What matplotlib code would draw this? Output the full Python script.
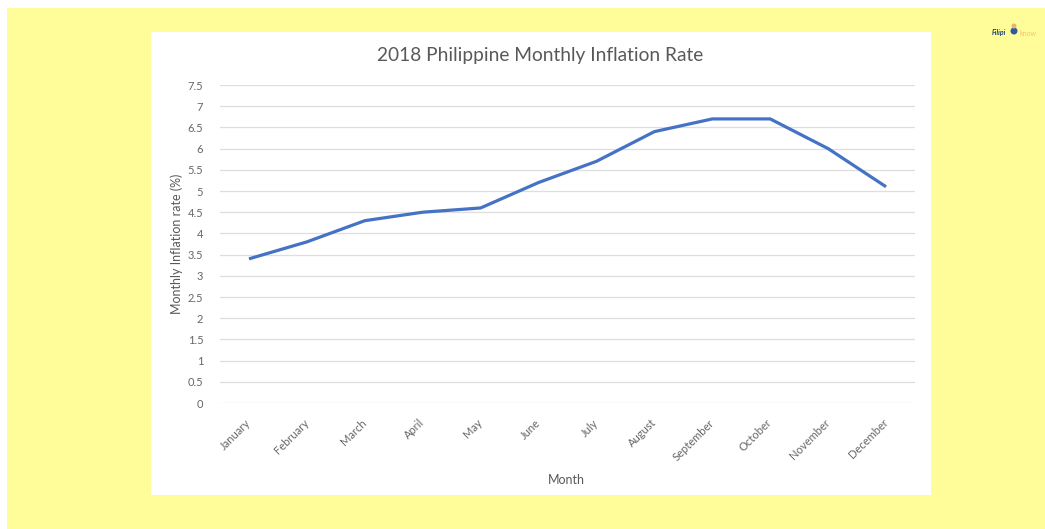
import matplotlib
matplotlib.use("Agg")
import matplotlib.pyplot as plt
from matplotlib.patches import Rectangle, Ellipse

months = ["January", "February", "March", "April", "May", "June", "July",
          "August", "September", "October", "November", "December"]
inflation = [3.4, 3.8, 4.3, 4.5, 4.6, 5.2, 5.7, 6.4, 6.7, 6.7, 6.0, 5.1]
yticks = [0, 0.5, 1, 1.5, 2, 2.5, 3, 3.5, 4, 4.5, 5, 5.5, 6, 6.5, 7, 7.5]
ytick_labels = ["0", "0.5", "1", "1.5", "2", "2.5", "3", "3.5", "4", "4.5",
                "5", "5.5", "6", "6.5", "7", "7.5"]

W, H = 1045, 529
DPI = 100
plt.rcParams["font.family"] = ["Lato", "DejaVu Sans"]

fig = plt.figure(figsize=(W / DPI, H / DPI), dpi=DPI, facecolor="white")


def fx(px):
    return px / W


def fy(py):
    return 1 - py / H


# yellow backdrop and white chart card
fig.patches.append(Rectangle((fx(7), 0), 1 - fx(7), fy(8), transform=fig.transFigure,
                             facecolor="#FFFD99", edgecolor="none", zorder=0))
fig.patches.append(Rectangle((fx(151), fy(495)), fx(931 - 151), (495 - 32) / H,
                             transform=fig.transFigure, facecolor="white",
                             edgecolor="none", zorder=1))

left, right, top, bottom = 220, 915, 85, 403
ax = fig.add_axes([fx(left), fy(bottom), fx(right - left), (bottom - top) / H])
ax.set_facecolor("none")
ax.set_zorder(2)

x = list(range(len(months)))
ax.plot(x, inflation, color="#4472C4", linewidth=2.3, solid_capstyle="butt", zorder=3)

ax.set_xlim(-0.5, len(months) - 0.5)
ax.set_ylim(0, 7.5)
ax.set_yticks(yticks)
ax.set_yticklabels(ytick_labels)
ax.set_xticks(x)
ax.set_xticklabels(months, rotation=45, ha="right", rotation_mode="anchor", va="center")
ax.grid(axis="y", color="#DEDEDE", linewidth=0.9)
ax.set_axisbelow(True)
for s in ax.spines.values():
    s.set_visible(False)
ax.tick_params(axis="both", length=0, colors="#666666", labelsize=8)
ax.tick_params(axis="y", pad=12)
ax.tick_params(axis="x", pad=13)

fig.text(fx(540), fy(55), "2018 Philippine Monthly Inflation Rate", ha="center", va="center",
         fontsize=13.8, color="#595959", zorder=3)
fig.text(fx(177), fy(244), "Monthly Inflation rate (%)", ha="center", va="center",
         rotation=90, fontsize=9, color="#595959", zorder=3)
fig.text(fx(566), fy(480), "Month", ha="center", va="center",
         fontsize=9, color="#595959", zorder=3)

# small site mark in the corner
fig.text(fx(992), fy(33), "Filipi", ha="left", va="center", fontsize=5,
         color="#1F3F7A", style="italic", fontweight="bold", zorder=3)
fig.patches.append(Ellipse((fx(1014), fy(31)), 7 / W, 7 / H, transform=fig.transFigure,
                           facecolor="#2E5C9A", edgecolor="none", zorder=3))
fig.patches.append(Ellipse((fx(1014), fy(26)), 5 / W, 5 / H, transform=fig.transFigure,
                           facecolor="#E8B27A", edgecolor="none", zorder=3))
fig.text(fx(1019), fy(33), "know", ha="left", va="center", fontsize=5,
         color="#F5C26B", zorder=3)

fig.savefig("out.png", dpi=DPI, facecolor="white")
